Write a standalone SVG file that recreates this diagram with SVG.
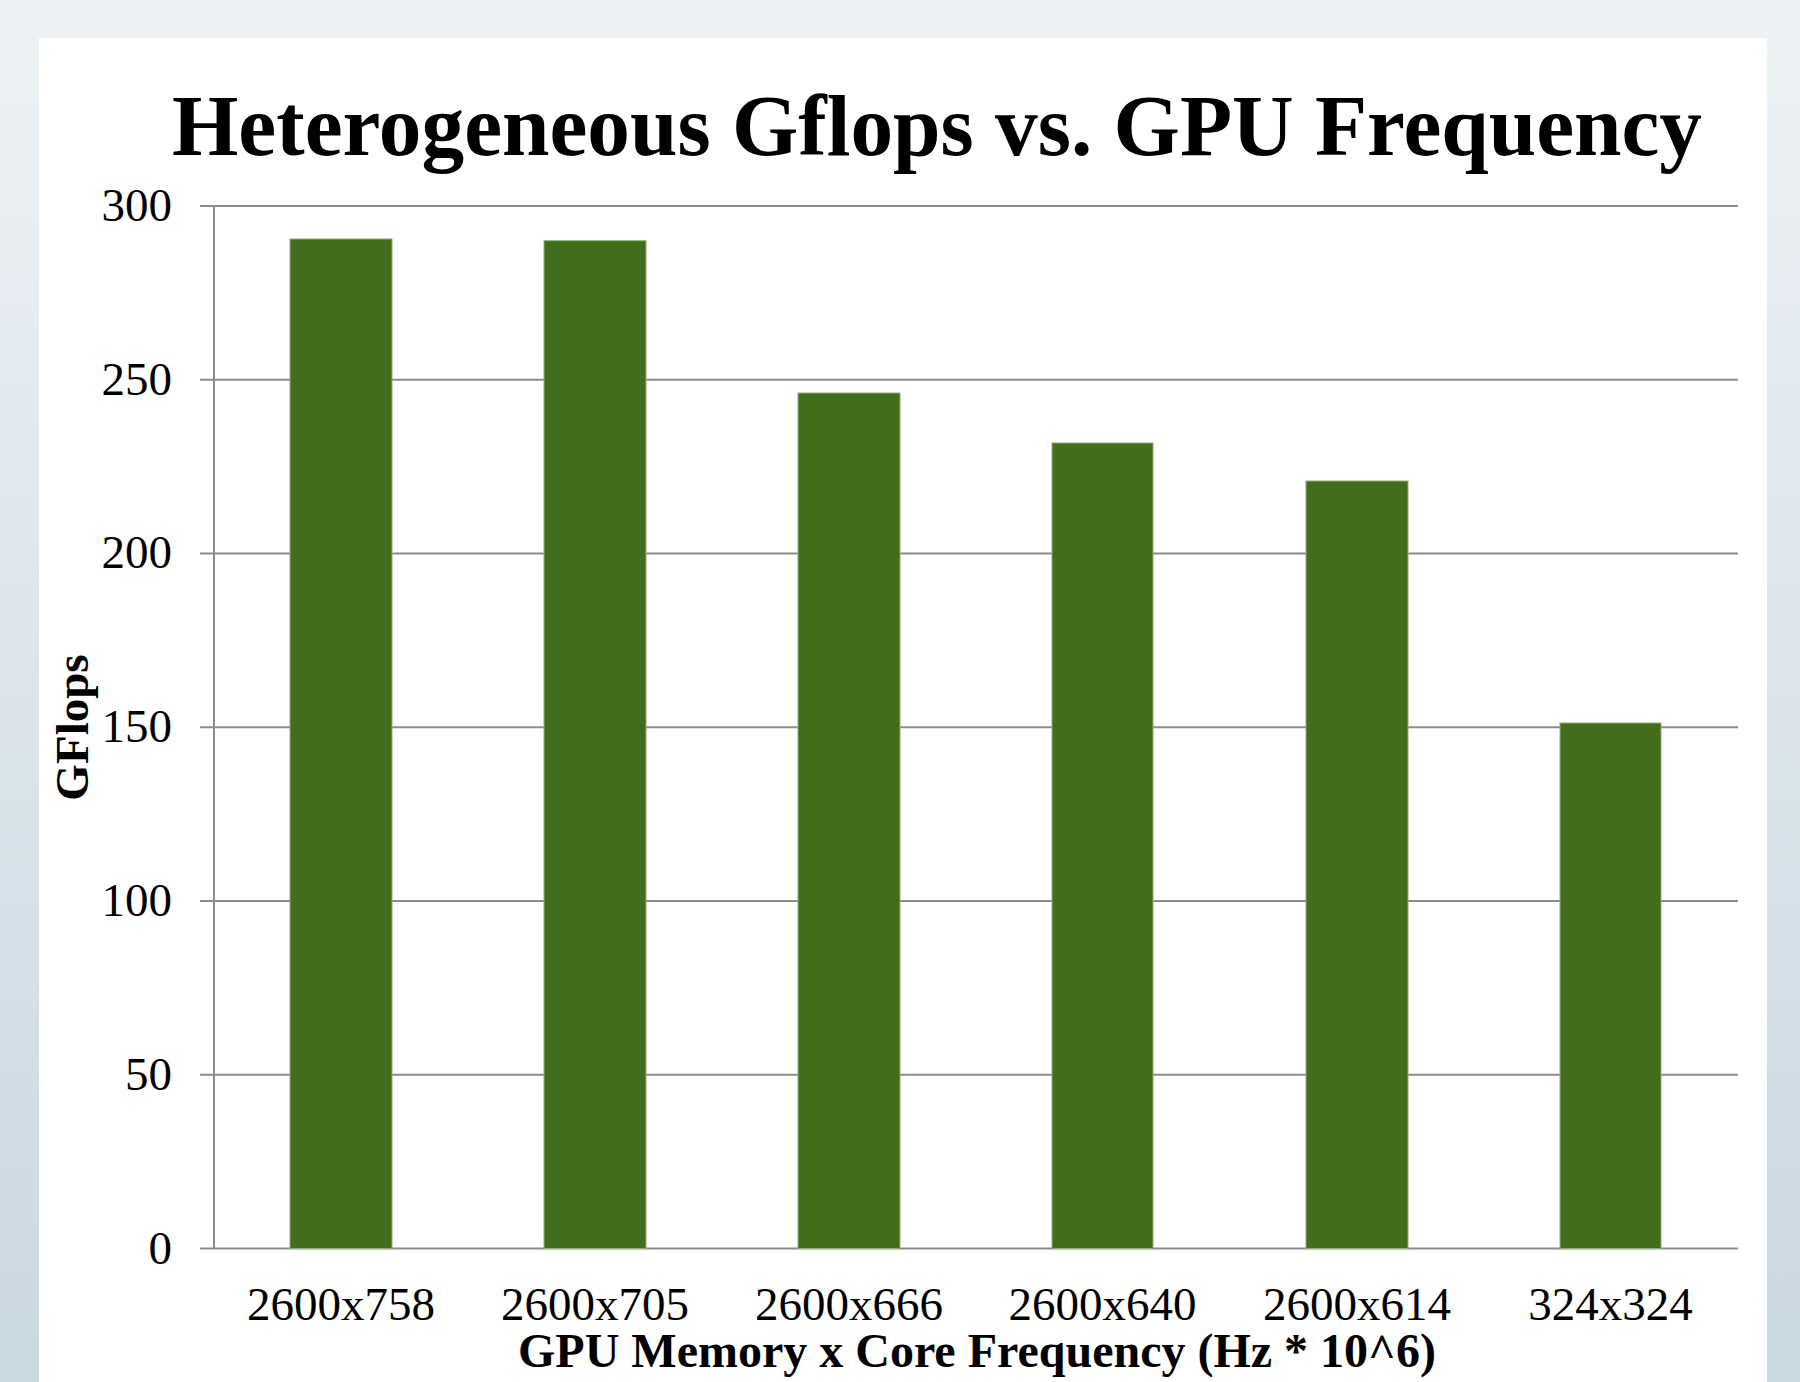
<svg xmlns="http://www.w3.org/2000/svg" width="1800" height="1382" viewBox="0 0 1800 1382">
<defs>
<linearGradient id="bg" x1="0" y1="0" x2="0" y2="1">
<stop offset="0" stop-color="#eef2f5"/>
<stop offset="1" stop-color="#cad8e2"/>
</linearGradient>
</defs>
<style>
.grid{stroke:#8c8c8c;stroke-width:2;fill:none}
.bar{fill:#426d1c;stroke:#8fae78;stroke-width:1}
.tick{font-family:"Liberation Serif","Times New Roman",serif;font-size:47px;fill:#000}
.bold{font-family:"Liberation Serif","Times New Roman",serif;font-weight:bold;fill:#000}
</style>
<rect x="0" y="0" width="1800" height="1382" fill="url(#bg)"/>
<rect x="39" y="38" width="1728" height="1344" fill="#ffffff"/>
<text class="bold" x="172" y="155" font-size="86" textLength="1530" lengthAdjust="spacingAndGlyphs">Heterogeneous Gflops vs. GPU Frequency</text>
<g id="gridlines">
<line class="grid" x1="200" y1="206" x2="1738" y2="206"/>
<line class="grid" x1="200" y1="379.75" x2="1738" y2="379.75"/>
<line class="grid" x1="200" y1="553.5" x2="1738" y2="553.5"/>
<line class="grid" x1="200" y1="727.25" x2="1738" y2="727.25"/>
<line class="grid" x1="200" y1="901" x2="1738" y2="901"/>
<line class="grid" x1="200" y1="1074.75" x2="1738" y2="1074.75"/>
<line class="grid" x1="200" y1="1248.5" x2="1738" y2="1248.5"/>
<line class="grid" x1="214" y1="206" x2="214" y2="1248.5"/>
</g>
<g id="y-labels" class="tick" text-anchor="end">
<text x="172" y="221">300</text>
<text x="172" y="395">250</text>
<text x="172" y="568">200</text>
<text x="172" y="742">150</text>
<text x="172" y="916">100</text>
<text x="172" y="1090">50</text>
<text x="172" y="1264">0</text>
</g>
<g id="bars">
<rect class="bar" x="290" y="239" width="102" height="1009.5"/>
<rect class="bar" x="544" y="240.7" width="102" height="1007.8"/>
<rect class="bar" x="798" y="393" width="102" height="855.5"/>
<rect class="bar" x="1052" y="443" width="101" height="805.5"/>
<rect class="bar" x="1306" y="481" width="102" height="767.5"/>
<rect class="bar" x="1560" y="723" width="101" height="525.5"/>
</g>
<g id="x-labels" class="tick" text-anchor="middle">
<text x="341" y="1320">2600x758</text>
<text x="595" y="1320">2600x705</text>
<text x="849" y="1320">2600x666</text>
<text x="1102.5" y="1320">2600x640</text>
<text x="1357" y="1320">2600x614</text>
<text x="1610.5" y="1320">324x324</text>
</g>
<text class="bold" x="977" y="1367" font-size="48" text-anchor="middle" textLength="918" lengthAdjust="spacingAndGlyphs">GPU Memory x Core Frequency (Hz * 10^6)</text>
<text class="bold" font-size="47" text-anchor="middle" transform="translate(88,727.5) rotate(-90)">GFlops</text>
</svg>
